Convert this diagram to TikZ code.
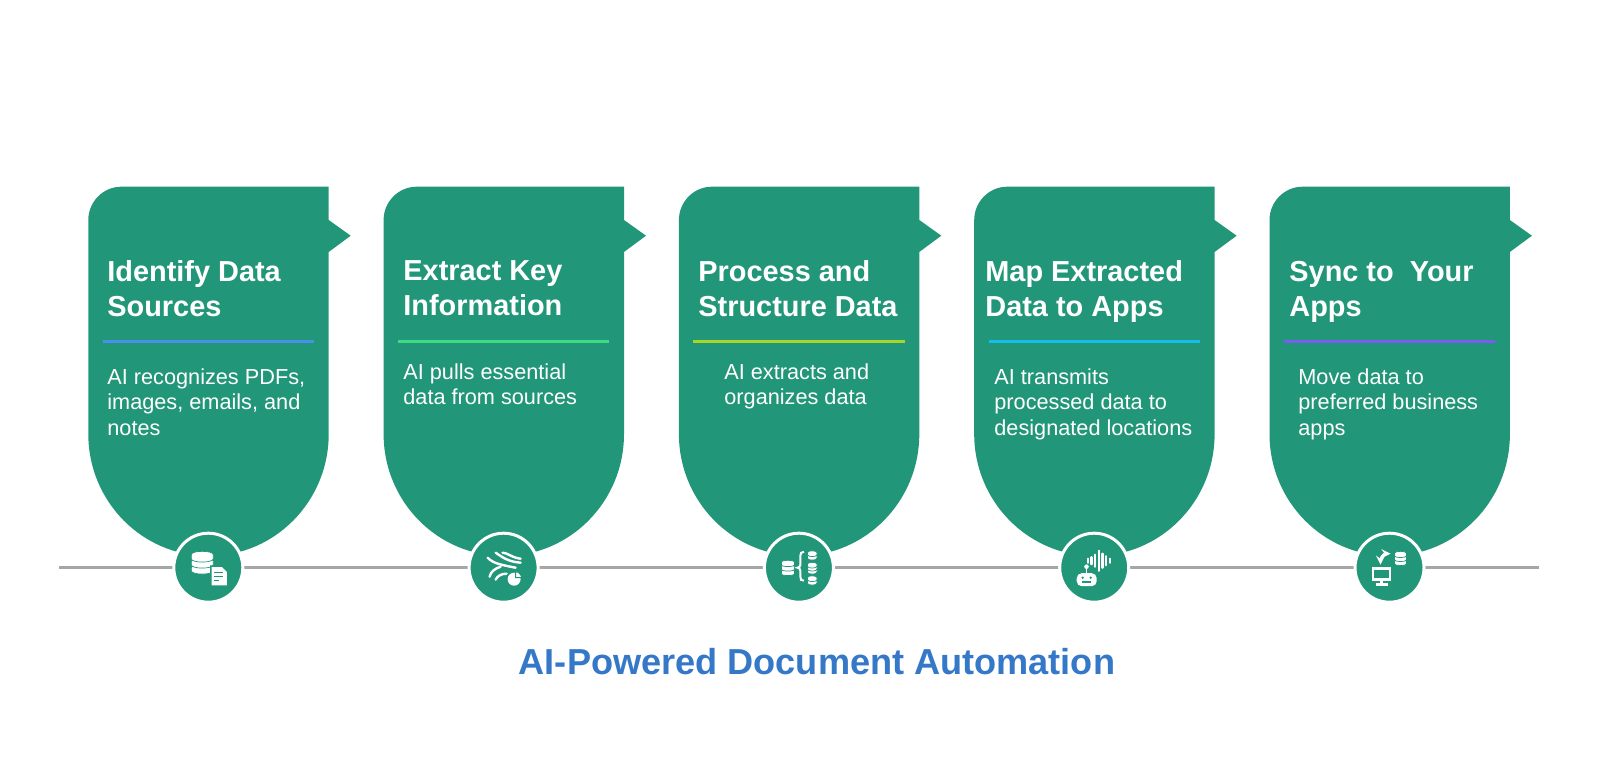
\documentclass[tikz,border=0pt]{standalone}
\usepackage{fontspec}
\setmainfont{Liberation Sans}
\definecolor{cardGreen}{HTML}{229678}
\definecolor{axisGray}{HTML}{A6A6A6}
\definecolor{titleBlue}{HTML}{3578C8}
\definecolor{ruleBlue}{HTML}{4A90E8}
\definecolor{ruleGreen}{HTML}{3DDC84}
\definecolor{ruleOlive}{HTML}{A8D52A}
\definecolor{ruleCyan}{HTML}{14BDEB}
\definecolor{rulePurple}{HTML}{7B5CF0}
\newcommand{\cardShape}{(33,186.7) -- (240.4,186.7) -- (240.4,220) -- (262.4,235.7) -- (240.4,252) -- (240.4,434)
  .. controls (240.4,501.4) and (186.6,556) .. (120.2,556)
  .. controls (53.8,556) and (0,501.4) .. (0,434) -- (0,220)
  .. controls (0,201.8) and (14.8,186.7) .. (33,186.7) -- cycle}
% x, y, half width, bulge, height
\newcommand{\dbLayer}[5]{\filldraw[fill=white,draw=cardGreen,line width=.35pt] ({#1-#3},#2) -- ({#1-#3},{#2+#5})
  .. controls ({#1-#3},{#2+#5+#4}) and ({#1+#3},{#2+#5+#4}) .. ({#1+#3},{#2+#5}) -- ({#1+#3},#2)
  .. controls ({#1+#3},{#2-#4}) and ({#1-#3},{#2-#4}) .. cycle;}
\tikzset{
  headText/.style={anchor=north west,align=left,text=white,inner sep=0pt,font=\fontsize{14.45}{17.5}\selectfont\bfseries},
  bodyText/.style={anchor=north west,align=left,text=white,inner sep=0pt,font=\fontsize{10.85}{12.75}\selectfont},
  iconDisc/.style={circle,fill=cardGreen,draw=white,line width=1.5pt,minimum size=34.5pt,inner sep=0pt},
  ruleLine/.style={line width=1.75pt},
  iconLine/.style={white,line width=1.2pt,line cap=round}
}
\begin{document}
\begin{tikzpicture}[x=0.5pt,y=-0.5pt]
\useasboundingbox (0,0) rectangle (1600,759);
\coordinate (axisStart) at (59,567.7);
\coordinate (axisEnd) at (1539,567.7);
\draw [axisGray,line width=1.5pt] (axisStart) -- (axisEnd);

\fill[cardGreen,shift={(88.3,0)}] \cardShape;
\fill[cardGreen,shift={(383.6,0)}] \cardShape;
\fill[cardGreen,shift={(678.9,0)}] \cardShape;
\fill[cardGreen,shift={(974.2,0)}] \cardShape;
\fill[cardGreen,shift={(1269.5,0)}] \cardShape;

\node[headText] (headOne) at (107,260.5) {Identify Data\\Sources};
\node[headText] (headTwo) at (403,260.5) {Extract Key\\Information};
\node[headText] (headThree) at (698,260.5) {Process and\\Structure Data};
\node[headText] (headFour) at (985,260.5) {Map Extracted\\Data to Apps};
\node[headText] (headFive) at (1289,260.5) {Sync to\ \ Your\\Apps};

\draw[ruleBlue,ruleLine] (102.7,341.7) -- (314,341.7);
\draw[ruleGreen,ruleLine] (398,341.7) -- (609.3,341.7);
\draw[ruleOlive,ruleLine] (693.3,341.7) -- (904.6,341.7);
\draw[ruleCyan,ruleLine] (988.6,341.7) -- (1199.9,341.7);
\draw[rulePurple,ruleLine] (1283.9,341.7) -- (1495.2,341.7);

\node[bodyText] (bodyOne) at (107,368.3) {AI recognizes PDFs,\\images, emails, and\\notes};
\node[bodyText] (bodyTwo) at (403,363.3) {AI pulls essential\\data from sources};
\node[bodyText] (bodyThree) at (724,363.3) {AI extracts and\\organizes data};
\node[bodyText] (bodyFour) at (994,368.3) {AI transmits\\processed data to\\designated locations};
\node[bodyText] (bodyFive) at (1298,368.3) {Move data to\\preferred business\\apps};

\node[iconDisc] (iconOne) at (208.3,567.7) {};
\node[iconDisc] (iconTwo) at (503.6,567.7) {};
\node[iconDisc] (iconThree) at (798.9,567.7) {};
\node[iconDisc] (iconFour) at (1094.2,567.7) {};
\node[iconDisc] (iconFive) at (1389.5,567.7) {};

% database and sheet
\begin{scope}[shift={(iconOne)}]
\dbLayer{-6}{0}{11}{4.5}{3}
\dbLayer{-6}{-6.5}{11}{4.5}{3.5}
\dbLayer{-6}{-13}{11}{4.5}{4}
\filldraw[fill=white,draw=cardGreen,line width=.75pt] (2.5,-1.5) -- (14,-1.5) -- (19.5,4) -- (19.5,18.5) -- (2.5,18.5) -- cycle;
\draw[cardGreen,line width=.75pt] (6,5) -- (15,5) (6,9) -- (15,9) (6,13) -- (11,13);
\end{scope}

% streams and pie
\begin{scope}[shift={(iconTwo)}]
\draw[iconLine] (-1,-15) .. controls (4,-15) and (8,-10) .. (17,-9);
\draw[iconLine] (-8,-15) .. controls (-3,-12) and (3,-6) .. (17,-5);
\draw[iconLine] (-16,-10) .. controls (-10,-4) and (-3,-3) .. (12,0);
\draw[iconLine] (-14,9) .. controls (-13,4) and (-9,1) .. (-3,-1);
\draw[iconLine] (-8,12) .. controls (-6,8) and (-2,6) .. (3,6);
\fill[white] (10.5,11.5) circle [radius=6.5];
\filldraw[fill=white,draw=cardGreen,line width=.5pt] (12,10) -- (12,4) .. controls (15,4) and (18,7) .. (18,10) -- cycle;
\end{scope}

% database split by a brace
\begin{scope}[shift={(iconThree)}]
\dbLayer{-11}{3.5}{6.5}{2.5}{2.5}
\dbLayer{-11}{-1}{6.5}{2.5}{2.5}
\dbLayer{-11}{-5.5}{6.5}{2.5}{2.5}
\draw[white,line width=1pt] (5,-16) .. controls (2,-16) and (1.5,-14) .. (1.5,-12) -- (1.5,-3)
  .. controls (1.5,-1) and (0,0) .. (-1.5,0) .. controls (0,0) and (1.5,1) .. (1.5,3) -- (1.5,9)
  .. controls (1.5,12) and (2,13) .. (5,13);
\dbLayer{13.3}{-11.5}{4.8}{2.5}{2}
\dbLayer{13.3}{-15}{4.8}{2.5}{2}
\dbLayer{13.3}{2.5}{4.8}{2.5}{2}
\dbLayer{13.3}{-.5}{4.8}{2.5}{2}
\dbLayer{13.3}{-3.5}{4.8}{2.5}{2}
\dbLayer{13.3}{13.5}{4.8}{2.5}{2}
\dbLayer{13.3}{10}{4.8}{2.5}{2}
\end{scope}

% robot and sound wave
\begin{scope}[shift={(iconFour)}]
\fill[white,rounded corners=2.5pt] (-17.5,5.5) rectangle (2.5,18.5);
\fill[white] (-7.7,-1) circle [radius=2.3];
\draw[white,line width=.9pt] (-7.7,-1) -- (-7.7,6);
\fill[cardGreen] (-11.5,10) circle [radius=1.3] (-3.5,10) circle [radius=1.3];
\draw[cardGreen,line width=.8pt] (-12,14) -- (-3,14);
\draw[iconLine] (-6,-9) -- (-6,-5) (-2.7,-10.5) -- (-2.7,-3.5) (.7,-13) -- (.7,-1) (4.7,-17) -- (4.7,3) (8.3,-14) -- (8.3,0) (11.7,-11.5) -- (11.7,-2.5) (15.7,-9) -- (15.7,-5);
\end{scope}

% monitor and database
\begin{scope}[shift={(iconFive)}]
\draw[white,line width=1.3pt] (-16.5,.5) rectangle (.5,11.5);
\draw[white,line width=1.3pt] (-8,11.5) -- (-8,16) (-14,16.5) -- (-2,16.5);
\dbLayer{11}{-6.5}{6}{2.5}{2.5}
\dbLayer{11}{-10.5}{6}{2.5}{2.5}
\dbLayer{11}{-14.5}{6}{2.5}{2.5}
\draw[<->,>=stealth,white,line width=1pt] (-9,-3) .. controls (-9,-10) and (-6,-14) .. (1,-14);
\end{scope}

\node[font=\fontsize{18.07}{22}\selectfont\bfseries,text=titleBlue,inner sep=0pt] (titleText) at (817,662) {AI-Powered Document Automation};
\end{tikzpicture}
\end{document}
